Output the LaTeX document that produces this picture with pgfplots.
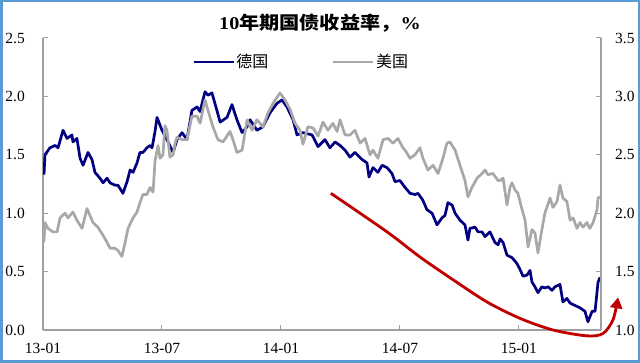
\documentclass[border=0pt]{standalone}
\usepackage{pgfplots}
\pgfplotsset{compat=1.18}
\usepackage{graphicx}
\usepackage{fontspec}
\setmainfont{Liberation Serif}
\newfontfamily\cjk{Noto Sans CJK SC}
\usetikzlibrary{arrows.meta}
\definecolor{denavy}{HTML}{000080}
\definecolor{usgray}{HTML}{A8A8A8}
\definecolor{axgray}{HTML}{A0A0A0}
\definecolor{arrowred}{HTML}{C00000}
\definecolor{framebl}{HTML}{5B9BD5}
\pgfplotsset{
  base/.style={
    at={(43bp,33bp)}, anchor=south west, scale only axis,
    width=558bp, height=292bp,
    xmin=0, xmax=28.14,
    tick align=inside, major tick length=5bp,
    tick style={color=axgray, line width=1bp},
    axis line style={color=axgray, line width=1.3bp},
    ticklabel style={font=\fontsize{15.5bp}{17bp}\selectfont, text=black},
    /pgf/number format/.cd, fixed, fixed zerofill, precision=1, assume math mode=true,
  }
}
\begin{document}
\begin{tikzpicture}
\path[use as bounding box] (0,0) rectangle (640bp,363bp);
\draw[framebl, line width=2.5bp] (1.25bp,1.25bp) rectangle (638.75bp,361.75bp);
% Germany, left axis
\begin{axis}[base,
  ymin=0, ymax=2.5, ytick={0,0.5,1,1.5,2,2.5},
  axis x line*=bottom, axis y line*=left,
  xtick={0,6,12,18,24}, xticklabels={13-01,13-07,14-01,14-07,15-01},
  xticklabel style={inner sep=0pt, yshift=-13bp},
  yticklabel style={inner sep=0pt, xshift=-18bp},
  title={\scalebox{1.12}[1]{10{\cjk 年期国债收益率，}\%}},
  title style={font=\bfseries\fontsize{18bp}{20bp}\selectfont, at={(axis description cs:0.4964,1.031)}, anchor=center, inner sep=0pt},
  legend style={draw=none, fill=none, at={(axis description cs:0.267,0.918)}, anchor=west,
    legend columns=2, inner sep=0pt, font=\cjk\fontsize{16bp}{18bp}\selectfont,
    /tikz/every even column/.append style={column sep=62bp}, nodes={inner sep=1.5bp}},
  legend image code/.code={\draw[#1] (0bp,0bp) -- (40bp,0bp);},
]
\addplot[denavy, line width=2.7bp, line join=round] coordinates {
(0.05,1.33)(0.10,1.50)(0.35,1.56)(0.61,1.58)(0.76,1.56)(1.01,1.71)(1.21,1.64)(1.46,1.67)(1.51,1.61)(1.71,1.64)
(1.87,1.47)(2.02,1.41)(2.27,1.52)(2.47,1.46)(2.62,1.35)(2.87,1.30)(3.03,1.26)(3.23,1.30)(3.38,1.26)(3.63,1.24)
(3.78,1.24)(4.03,1.17)(4.24,1.27)(4.39,1.37)(4.54,1.35)(4.74,1.43)(4.89,1.52)(5.04,1.52)(5.24,1.56)(5.40,1.58)
(5.50,1.56)(5.65,1.70)(5.75,1.82)(6.00,1.71)(6.25,1.63)(6.56,1.52)(6.76,1.63)(7.01,1.69)(7.26,1.63)(7.51,1.88)
(7.77,1.91)(7.92,1.87)(8.17,2.04)(8.32,2.01)(8.52,2.03)(8.77,1.88)(8.93,1.78)(9.28,1.82)(9.53,1.93)(9.78,1.80)
(10.04,1.69)(10.29,1.74)(10.44,1.80)(10.79,1.71)(11.09,1.74)(11.45,1.86)(11.80,1.94)(12.05,1.97)(12.30,1.91)
(12.61,1.80)(12.81,1.67)(13.11,1.69)(13.57,1.67)(13.87,1.57)(14.22,1.63)(14.47,1.56)(14.73,1.61)(14.98,1.58)
(15.23,1.54)(15.48,1.48)(15.73,1.52)(16.09,1.46)(16.34,1.43)(16.44,1.31)(16.64,1.39)(16.89,1.35)(17.10,1.41)
(17.35,1.39)(17.60,1.34)(17.75,1.27)(18.00,1.28)(18.26,1.22)(18.51,1.17)(18.76,1.16)(18.91,1.17)(19.16,1.11)
(19.36,1.03)(19.62,1.00)(19.87,0.90)(20.12,0.96)(20.27,0.98)(20.42,1.09)(20.63,1.07)(20.78,1.00)(21.03,0.94)
(21.28,0.90)(21.43,0.77)(21.53,0.87)(21.79,0.88)(21.94,0.84)(22.14,0.84)(22.29,0.80)(22.54,0.84)(22.79,0.75)
(22.95,0.73)(23.05,0.78)(23.20,0.75)(23.40,0.64)(23.65,0.62)(23.90,0.57)(24.05,0.52)(24.21,0.46)(24.41,0.47)
(24.56,0.51)(24.66,0.41)(24.81,0.37)(24.96,0.32)(25.16,0.37)(25.31,0.36)(25.47,0.37)(25.67,0.34)(25.82,0.37)
(26.07,0.39)(26.22,0.24)(26.42,0.27)(26.58,0.23)(26.83,0.21)(27.08,0.19)(27.33,0.16)(27.48,0.07)(27.69,0.16)
(27.84,0.16)(27.99,0.41)(28.09,0.45)
};
\addlegendentry{德国}
\addlegendimage{usgray, line width=2.7bp}
\addlegendentry{美国}
\end{axis}
% US, right axis
\begin{axis}[base,
  ymin=1, ymax=3.5, ytick={1,1.5,2,2.5,3,3.5},
  axis y line*=right, axis x line=none,
  yticklabel style={inner sep=0pt, xshift=14bp},
]
\addplot[usgray, line width=2.7bp, line join=round] coordinates {
(0.05,1.75)(0.10,1.92)(0.25,1.87)(0.50,1.84)(0.71,1.84)(0.86,1.96)(1.11,2.00)(1.26,1.96)(1.51,2.01)(1.71,1.94)
(1.97,1.87)(2.22,2.04)(2.37,1.98)(2.52,1.92)(2.77,1.88)(3.03,1.81)(3.23,1.75)(3.38,1.70)(3.63,1.70)(3.78,1.68)
(3.98,1.63)(4.14,1.75)(4.29,1.87)(4.54,1.96)(4.74,2.01)(4.89,2.09)(5.04,2.16)(5.24,2.16)(5.40,2.22)(5.55,2.18)
(5.65,2.45)(5.80,2.58)(5.90,2.47)(6.05,2.50)(6.15,2.75)(6.25,2.71)(6.40,2.48)(6.56,2.50)(6.66,2.60)(6.76,2.65)
(7.01,2.63)(7.26,2.63)(7.51,2.83)(7.77,2.83)(7.92,2.77)(8.17,2.97)(8.32,2.88)(8.57,2.74)(8.82,2.63)(9.08,2.61)
(9.43,2.70)(9.58,2.63)(9.78,2.52)(10.04,2.54)(10.29,2.80)(10.54,2.71)(10.79,2.80)(11.09,2.74)(11.35,2.86)
(11.60,2.94)(11.95,3.03)(12.20,2.97)(12.46,2.89)(12.71,2.77)(12.96,2.71)(13.11,2.59)(13.36,2.74)(13.62,2.73)
(13.87,2.66)(14.12,2.78)(14.37,2.71)(14.62,2.77)(14.83,2.70)(14.98,2.80)(15.23,2.67)(15.48,2.67)(15.73,2.71)
(15.99,2.60)(16.24,2.64)(16.49,2.50)(16.64,2.54)(16.89,2.47)(17.15,2.63)(17.40,2.64)(17.65,2.60)(17.90,2.64)
(18.15,2.56)(18.26,2.54)(18.51,2.47)(18.76,2.50)(19.01,2.56)(19.16,2.47)(19.41,2.37)(19.67,2.41)(19.92,2.34)
(20.17,2.47)(20.37,2.60)(20.52,2.61)(20.78,2.54)(21.03,2.41)(21.28,2.28)(21.43,2.14)(21.63,2.22)(21.89,2.30)
(22.14,2.34)(22.29,2.37)(22.44,2.33)(22.69,2.34)(22.95,2.28)(23.05,2.28)(23.20,2.30)(23.40,2.07)(23.55,2.22)
(23.65,2.26)(23.80,2.20)(23.95,2.17)(24.16,2.03)(24.31,1.94)(24.46,1.71)(24.66,1.86)(24.81,1.83)(24.96,1.66)
(25.16,1.86)(25.31,2.00)(25.57,2.13)(25.72,2.05)(25.92,2.10)(26.07,2.24)(26.22,2.13)(26.42,2.10)(26.58,1.94)
(26.73,1.96)(26.93,1.87)(27.08,1.92)(27.23,1.88)(27.43,1.92)(27.58,1.87)(27.74,1.92)(27.94,2.03)(27.99,2.13)
(28.09,2.14)
};
\end{axis}
% red arrow annotation, left-axis scale
\begin{axis}[base, ymin=0, ymax=2.5, hide axis, clip=false]
\addplot[arrowred, line width=2.8bp, smooth, -{Triangle[length=11bp,width=12bp]}] coordinates {
(14.52,1.17)(17.35,0.84)(19.01,0.625)(20.68,0.43)(22.39,0.24)(24.05,0.10)(25.72,0.0)(27.43,-0.05)(28.24,-0.03)(28.75,0.09)(29.0,0.28)
};
\end{axis}
\end{tikzpicture}
\end{document}
